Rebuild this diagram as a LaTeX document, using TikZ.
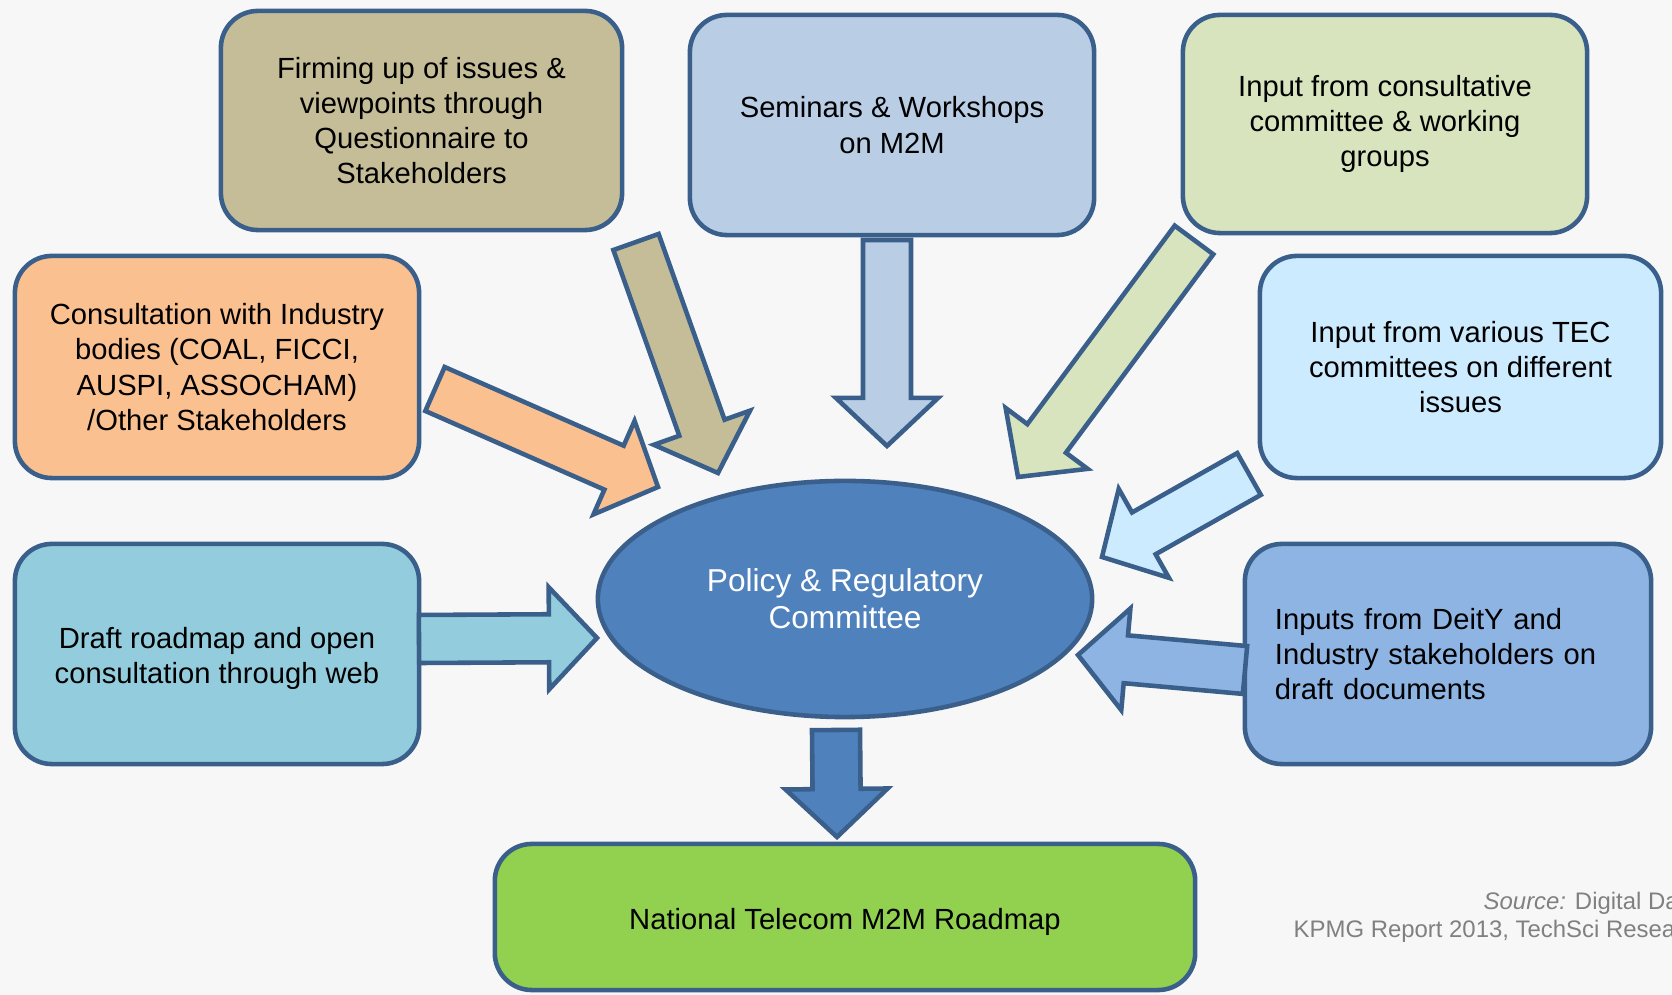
\documentclass[tikz,border=0pt]{standalone}
\usepackage{fontspec}
\setmainfont{Liberation Sans}
\usetikzlibrary{calc}
\usetikzlibrary{shapes.geometric}
\definecolor{bgcol}{HTML}{F7F7F7}
\definecolor{edge}{HTML}{3A5F8B}
\definecolor{tancol}{HTML}{C4BD97}
\definecolor{semcol}{HTML}{B9CDE5}
\definecolor{grncol}{HTML}{D7E4BD}
\definecolor{orgcol}{HTML}{FAC090}
\definecolor{teccol}{HTML}{CDEBFE}
\definecolor{webcol}{HTML}{93CDDD}
\definecolor{deitycol}{HTML}{8EB4E3}
\definecolor{roadcol}{HTML}{92D050}
\definecolor{prccol}{HTML}{4F81BD}
\definecolor{srccol}{HTML}{808080}
\newcommand*{\shft}{0.24cm}
\newcommand*{\brb }{0.51cm}
\newcommand*{\hdl }{0.48cm}
\newcommand*{\blockarrow}[3]{%
    \coordinate (hd) at ($(#3)!\hdl!(#2)$);
    \draw [arrowbox, fill=#1] ($(#2)!\shft!90:(#3)$) -- ($(hd)!\shft!-90:(#2)$) -- ($(hd)!\brb!-90:(#2)$) -- (#3)
        -- ($(hd)!\brb!90:(#2)$) -- ($(hd)!\shft!90:(#2)$) -- ($(#2)!\shft!-90:(#3)$) -- cycle;
}
\tikzset{
    box/.style      = {draw=edge, line width=1.3pt, rounded corners=0.37cm, inner sep=0, align=center,
                       font=\fontsize{8.3}{10}\selectfont},
    arrowbox/.style = {draw=edge, line width=1.3pt, line join=miter},
    srctext/.style  = {text=srccol, inner sep=0, anchor=west, font=\fontsize{6.8}{8}\selectfont},
}

\begin{document}
\begin{tikzpicture}[x=0.01cm, y=-0.01cm]
    \useasboundingbox (0,0) rectangle (1672,995);
    \clip (0,0) rectangle (1672,995);
    \fill [bgcol] (0,0) rectangle (1672,995);

        \node (quest) [box, fill=tancol,   minimum width=4.01cm, minimum height=2.19cm] at ( 421.5,120.5) {Firming up of issues \&\\viewpoints through\\Questionnaire to\\Stakeholders};
        \node (semin) [box, fill=semcol,   minimum width=4.04cm, minimum height=2.20cm] at ( 892,125) {Seminars \& Workshops\\on M2M};
        \node (cnslt) [box, fill=grncol,   minimum width=4.04cm, minimum height=2.18cm] at (1385,124) {Input from consultative\\committee \& working\\groups};
        \node (indus) [box, fill=orgcol,   minimum width=4.04cm, minimum height=2.22cm] at ( 217,367) {Consultation with Industry\\bodies (COAL, FICCI,\\AUSPI, ASSOCHAM)\\/Other Stakeholders};
        \node (tec)   [box, fill=teccol,   minimum width=4.01cm, minimum height=2.22cm] at (1460.5,367) {Input from various TEC\\committees on different\\issues};
        \node (web)   [box, fill=webcol,   minimum width=4.04cm, minimum height=2.20cm, text height=18.5pt] at ( 217,654) {Draft roadmap and open\\consultation through web};
        \node (deity) [box, fill=deitycol, minimum width=4.06cm, minimum height=2.20cm, align=left, text width=3.46cm] at (1448,654) {Inputs from DeitY and\\Industry stakeholders on\\draft documents};
        \node (road)  [box, fill=roadcol,  minimum width=7.00cm, minimum height=1.46cm, text height=9pt, text depth=1.8pt] at ( 845,917) {National Telecom M2M Roadmap};
        \node (prc)   [ellipse, draw=edge, line width=1.3pt, fill=prccol, text=white, inner sep=0, align=center,
                       minimum width=4.94cm, minimum height=2.36cm, font=\fontsize{9}{10.6}\selectfont] at (845,599) {Policy \& Regulatory\\Committee};

        \coordinate (quest-t) at ( 636,242);  \coordinate (quest-p) at ( 718,473);
        \coordinate (indus-t) at ( 435,389);  \coordinate (indus-p) at ( 658,487);
        \coordinate (semin-t) at ( 887,240);  \coordinate (semin-p) at ( 887,446);
        \coordinate (cnslt-t) at (1194,240);  \coordinate (cnslt-p) at (1018,477);
        \coordinate (tec-t)   at (1249,474);  \coordinate (tec-p)   at (1102,557);
        \coordinate (deity-t) at (1245,670);  \coordinate (deity-p) at (1078,655);
        \coordinate (web-t)   at ( 419,639);  \coordinate (web-p)   at ( 597,638);
        \coordinate (prc-t)   at ( 836,730);  \coordinate (prc-p)   at ( 837,837);

        \blockarrow{tancol}{quest-t}{quest-p}
        \blockarrow{orgcol}{indus-t}{indus-p}
        \blockarrow{semcol}{semin-t}{semin-p}
        \blockarrow{grncol}{cnslt-t}{cnslt-p}
        \blockarrow{teccol}{tec-t}{tec-p}
        \blockarrow{deitycol}{deity-t}{deity-p}
        \blockarrow{webcol}{web-t}{web-p}
        \blockarrow{prccol}{prc-t}{prc-p}

        \node (src1) [srctext] at (1483,903) {\textit{Source:} Digital Da};
        \node (src2) [srctext] at (1293,931) {KPMG Report 2013, TechSci Resea};
    \end{tikzpicture}
\end{document}
